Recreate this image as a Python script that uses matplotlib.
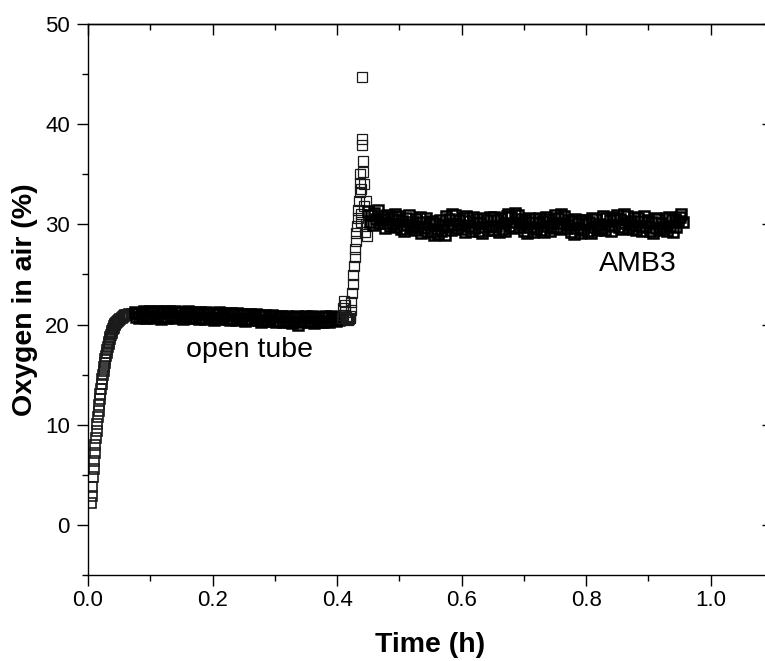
import numpy as np
import matplotlib
matplotlib.use("Agg")
import matplotlib.pyplot as plt
from matplotlib.ticker import MultipleLocator

plt.rcParams["font.family"] = ["Liberation Sans", "DejaVu Sans"]

# --- initial rise after opening the tube (t in h, O2 in %) ---
rise_t = [0.005, 0.006, 0.007, 0.008, 0.009, 0.010, 0.011, 0.012, 0.013, 0.014,
          0.015, 0.016, 0.017, 0.018, 0.019, 0.020, 0.021, 0.022, 0.023, 0.024,
          0.025, 0.026, 0.027, 0.028, 0.029, 0.030, 0.031, 0.032, 0.033, 0.034,
          0.035, 0.036, 0.037, 0.038, 0.039, 0.040, 0.041, 0.042, 0.043, 0.044,
          0.045, 0.046, 0.048, 0.050, 0.052, 0.054, 0.056, 0.058, 0.060, 0.063,
          0.066, 0.070]
rise_y = [2.2, 2.9, 3.8, 4.8, 5.6, 6.4, 7.2, 8.0, 8.7, 9.4,
          10.1, 10.8, 11.4, 12.0, 12.6, 13.1, 13.6, 14.1, 14.6, 15.0,
          15.4, 15.8, 16.2, 16.6, 16.9, 17.2, 17.5, 17.8, 18.1, 18.3,
          18.6, 18.8, 19.0, 19.2, 19.4, 19.6, 19.7, 19.9, 20.0, 20.1,
          20.2, 20.3, 20.4, 20.5, 20.6, 20.7, 20.8, 20.9, 21.0, 21.0,
          21.1, 21.1]

# --- open tube plateau, sampled every 0.0025 h from 0.075 to 0.405 h ---
open_start, open_end = 0.075, 0.405
open_y = [21.3, 20.8, 21.2, 20.7, 21.1, 20.9, 21.4, 20.7, 21.2, 20.9,
          21.4, 20.7, 21.3, 20.8, 21.4, 20.9, 21.2, 20.6, 21.4, 20.8,
          21.3, 20.7, 21.4, 20.9, 21.2, 20.7, 21.4, 20.8, 21.3, 20.9,
          21.3, 20.6, 21.2, 20.8, 21.4, 20.7, 21.1, 20.8, 21.3, 20.7,
          21.2, 20.6, 21.3, 20.7, 21.1, 20.6, 21.3, 20.8, 21.2, 20.7,
          21.2, 20.5, 21.1, 20.7, 21.3, 20.6, 21.0, 20.8, 21.2, 20.6,
          21.1, 20.5, 21.2, 20.6, 21.0, 20.5, 21.2, 20.7, 21.1, 20.6,
          21.1, 20.4, 21.0, 20.6, 21.1, 20.5, 21.0, 20.7, 21.1, 20.5,
          21.0, 20.3, 20.9, 20.5, 21.0, 20.4, 20.9, 20.6, 21.0, 20.4,
          20.9, 20.3, 20.8, 20.4, 20.9, 20.3, 20.8, 20.5, 20.9, 20.3,
          20.8, 20.2, 20.8, 20.4, 20.9, 20.0, 20.7, 20.3, 20.8, 20.4,
          20.9, 20.3, 20.8, 20.4, 20.9, 20.2, 20.7, 20.4, 20.8, 20.3,
          20.8, 20.3, 20.9, 20.4, 20.8, 20.3, 20.9, 20.5, 20.8, 20.4,
          20.7, 20.5, 20.8]

# --- switch to AMB3: jump and overshoot ---
jump_t = [0.4075, 0.409, 0.410, 0.411, 0.412, 0.413, 0.414, 0.4155, 0.417, 0.4185,
          0.420, 0.421, 0.422, 0.423, 0.424, 0.425, 0.426, 0.427, 0.428, 0.429,
          0.430, 0.431, 0.432, 0.433, 0.434, 0.435, 0.436, 0.437, 0.4375, 0.438,
          0.4385, 0.439, 0.4395, 0.440, 0.4405, 0.441, 0.442, 0.443, 0.444, 0.445,
          0.446, 0.447, 0.448, 0.449]
jump_y = [20.7, 21.0, 21.7, 22.4, 22.0, 21.3, 20.8, 20.6, 20.5, 20.6,
          20.7, 20.9, 21.5, 22.3, 23.1, 24.0, 24.9, 25.8, 26.7, 27.5,
          28.3, 29.1, 29.8, 30.6, 31.4, 32.3, 33.2, 34.1, 35.0, 31.0,
          30.2, 33.5, 44.7, 38.5, 37.9, 36.3, 35.2, 34.0, 31.8, 29.2,
          32.3, 30.0, 28.8, 30.9]

# --- AMB3 plateau, sampled every 0.0025 h from 0.450 to 0.955 h ---
amb_start, amb_end = 0.450, 0.955
amb_y = [31.3, 30.2, 30.9, 29.9, 31.1, 30.5, 31.4, 30.1, 30.8, 30.4,
         30.5, 29.6, 30.9, 30.1, 29.8, 30.7, 30.0, 31.0, 29.7, 30.4,
         30.8, 29.5, 30.3, 29.3, 30.6, 29.9, 30.9, 29.6, 30.2, 29.8,
         29.4, 30.5, 29.7, 30.7, 29.1, 30.2, 29.6, 30.6, 29.3, 30.0,
         29.2, 30.3, 28.9, 30.1, 29.5, 29.0, 30.4, 29.3, 29.9, 28.9,
         30.8, 29.7, 30.5, 29.4, 31.0, 30.0, 30.9, 29.6, 30.4, 29.9,
         29.5, 30.6, 29.2, 30.8, 29.8, 30.3, 29.3, 30.7, 29.6, 30.2,
         30.5, 29.3, 30.1, 29.1, 30.6, 29.7, 30.4, 29.4, 30.7, 29.8,
         29.4, 30.7, 29.8, 30.4, 29.2, 30.6, 29.5, 30.1, 29.3, 30.8,
         31.0, 29.8, 30.7, 29.6, 31.1, 30.2, 30.9, 29.7, 30.5, 30.0,
         29.3, 30.4, 29.1, 30.6, 29.7, 30.2, 29.2, 30.5, 29.5, 30.1,
         30.6, 29.4, 30.3, 29.2, 30.7, 29.8, 30.5, 29.3, 30.1, 29.6,
         30.9, 29.7, 30.6, 29.5, 31.0, 30.1, 30.8, 29.6, 30.4, 29.9,
         29.2, 30.3, 29.0, 30.5, 29.6, 30.1, 29.1, 30.4, 29.4, 30.0,
         30.4, 29.3, 30.2, 29.1, 30.6, 29.7, 30.5, 29.4, 30.0, 29.5,
         29.6, 30.8, 29.4, 30.6, 29.9, 30.4, 29.3, 30.7, 29.8, 30.5,
         30.9, 29.7, 30.5, 29.5, 31.0, 30.1, 30.8, 29.6, 30.3, 29.9,
         29.5, 30.7, 29.4, 30.6, 29.8, 30.3, 29.3, 30.8, 29.7, 30.2,
         30.4, 29.3, 30.2, 29.1, 30.6, 29.6, 30.5, 29.4, 30.1, 29.7,
         29.5, 30.6, 29.3, 30.7, 29.8, 30.4, 29.2, 30.5, 29.7, 30.3,
         30.7, 31.0, 30.2]

open_t = np.linspace(open_start, open_end, len(open_y))
amb_t = np.linspace(amb_start, amb_end, len(amb_y))

W, H = 765, 661
fig = plt.figure(figsize=(W / 100, H / 100), dpi=100)
# right spine sits just outside the canvas, as in the original export
ax = fig.add_axes([88 / W, 86 / H, 685 / W, 551 / H])

# hollow squares, like Origin's open-square symbol
sq = dict(marker="s", ls="none", ms=7, mfc="none")
ax.plot(rise_t, rise_y, mew=1.2, mec="#1a1a1a", **sq)
ax.plot(open_t, open_y, mew=1.8, mec="black", **sq)
ax.plot(jump_t, jump_y, mew=0.9, mec="#1a1a1a", **sq)
ax.plot(amb_t, amb_y, mew=1.8, mec="black", **sq)

ax.set_xlim(0, 1.1)
ax.set_ylim(-5, 50)
ax.set_xticks([0.0, 0.2, 0.4, 0.6, 0.8, 1.0])
ax.set_yticks([0, 10, 20, 30, 40, 50])
ax.xaxis.set_minor_locator(MultipleLocator(0.1))
ax.yaxis.set_minor_locator(MultipleLocator(5))
ax.set_xticklabels(["0.0", "0.2", "0.4", "0.6", "0.8", "1.0"])

ax.tick_params(which="both", direction="out", width=1.0, labelsize=16)
ax.tick_params(axis="x", which="major", length=8, pad=3)
ax.tick_params(axis="y", which="major", length=8, pad=5)
ax.tick_params(which="minor", length=4)
for s in ax.spines.values():
    s.set_linewidth(1.0)
ax.spines["right"].set_visible(False)

# mirrored axes: ticks pointing inward, no labels
top = ax.secondary_xaxis("top")
top.set_xticks([0.0, 0.2, 0.4, 0.6, 0.8, 1.0])
top.xaxis.set_minor_locator(MultipleLocator(0.1))
top.tick_params(which="both", direction="in", width=1.0, labeltop=False)
top.tick_params(which="major", length=8)
top.tick_params(which="minor", length=4)
top.spines["top"].set_linewidth(1.0)
right = ax.secondary_yaxis("right")
right.set_yticks([0, 10, 20, 30, 40, 50])
right.yaxis.set_minor_locator(MultipleLocator(5))
right.tick_params(which="both", direction="in", width=1.0, labelright=False)
right.tick_params(which="major", length=8)
right.tick_params(which="minor", length=4)
right.spines["right"].set_visible(False)

ax.set_xlabel("Time (h)", fontsize=20.5, fontweight="bold", labelpad=15)
ax.set_ylabel("Oxygen in air (%)", fontsize=20.5, fontweight="bold", labelpad=5)

ax.text(0.26, 16.8, "open tube", ha="center", va="baseline", fontsize=20.5)
ax.text(0.8825, 25.3, "AMB3", ha="center", va="baseline", fontsize=20.5)

fig.savefig("out.png", dpi=100)
plt.close(fig)
